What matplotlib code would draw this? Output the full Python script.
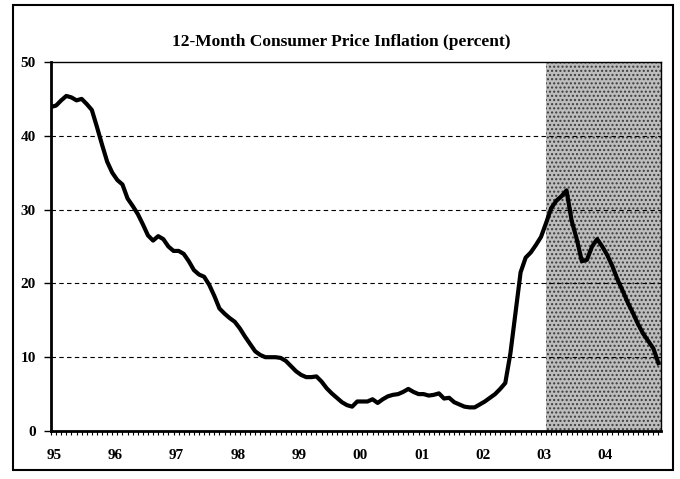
import numpy as np
import matplotlib
matplotlib.use("Agg")
import matplotlib.pyplot as plt
from matplotlib.patches import Rectangle

# monthly 12-month CPI inflation, Jan 1995 .. Dec 2004
inflation = [
    43.9, 44.1, 44.8, 45.4, 45.2, 44.8, 45.0, 44.3, 43.5, 41.2, 38.8, 36.5,   # 95
    35.0, 34.0, 33.4, 31.5, 30.5, 29.4, 28.0, 26.5, 25.8, 26.4, 26.0, 25.0,   # 96
    24.4, 24.4, 24.0, 23.0, 21.8, 21.2, 20.9, 19.8, 18.3, 16.6, 15.9, 15.3,   # 97
    14.8, 13.9, 12.8, 11.8, 10.8, 10.3, 10.0, 10.0, 10.0, 9.9, 9.5, 8.8,      # 98
    8.1, 7.6, 7.3, 7.3, 7.4, 6.7, 5.8, 5.1, 4.5, 3.9, 3.5, 3.3,               # 99
    4.0, 4.0, 4.0, 4.3, 3.8, 4.3, 4.7, 4.9, 5.0, 5.3, 5.7, 5.3,               # 00
    5.0, 5.0, 4.8, 4.9, 5.1, 4.4, 4.5, 3.9, 3.6, 3.3, 3.2, 3.2,               # 01
    3.6, 4.0, 4.5, 5.0, 5.7, 6.5, 10.5, 16.0, 21.5, 23.5, 24.2, 25.2,         # 02
    26.3, 28.2, 30.2, 31.2, 31.8, 32.6, 28.5, 26.0, 23.0, 23.2, 25.0, 26.0,   # 03
    25.0, 23.8, 22.3, 20.5, 19.0, 17.4, 16.0, 14.5, 13.2, 12.2, 11.2, 9.2,    # 04
]
year_labels = ["95", "96", "97", "98", "99", "00", "01", "02", "03", "04"]
y_ticks = [0, 10, 20, 30, 40, 50]
forecast_start = 97  # projection period, month index

plt.rcParams['font.family'] = ['Liberation Serif', 'DejaVu Serif']
plt.rcParams['hatch.linewidth'] = 1.0

fig = plt.figure(figsize=(6.8, 4.79), dpi=100)
ax = fig.add_axes([0.075, 0.1002, 0.897, 0.7704])

months = np.arange(len(inflation))
ax.axvspan(forecast_start, 119.5, facecolor='#bdbdbd', edgecolor='#3c3c3c',
           hatch='....', linewidth=0, zorder=0)
for v in y_ticks[1:-1]:
    ax.axhline(v, color='black', linestyle=(0, (4, 3)), linewidth=0.8, zorder=1)
ax.plot(months, inflation, color='black', linewidth=3.0, zorder=3,
        solid_joinstyle='round')

ax.set_xlim(0, 119.5)
ax.set_ylim(0, 50)
ax.set_yticks(y_ticks)
ax.set_yticklabels([str(v) for v in y_ticks], fontsize=11, fontweight='bold')
ax.set_xticks(np.arange(len(year_labels)) * 12 + 0.6)
ax.set_xticklabels(year_labels, fontsize=11, fontweight='bold')
ax.set_xticks(np.arange(0, 120), minor=True)
ax.tick_params(axis='x', which='major', length=0, pad=13)
ax.tick_params(axis='x', which='minor', length=3, width=0.8, direction='out')
ax.tick_params(axis='y', length=5, width=1, direction='out', pad=6)

for side in ['left', 'bottom']:
    ax.spines[side].set_linewidth(2.0)
for side in ['top', 'right']:
    ax.spines[side].set_linewidth(1.0)

fig.text(0.502, 0.912, "12-Month Consumer Price Inflation (percent)",
         ha='center', va='center', fontsize=12.5, fontweight='bold')

fig.patches.append(Rectangle((0.019, 0.019), 0.971, 0.971, transform=fig.transFigure,
                             fill=False, edgecolor='black', linewidth=1.5))

fig.savefig("out.png", dpi=100)
